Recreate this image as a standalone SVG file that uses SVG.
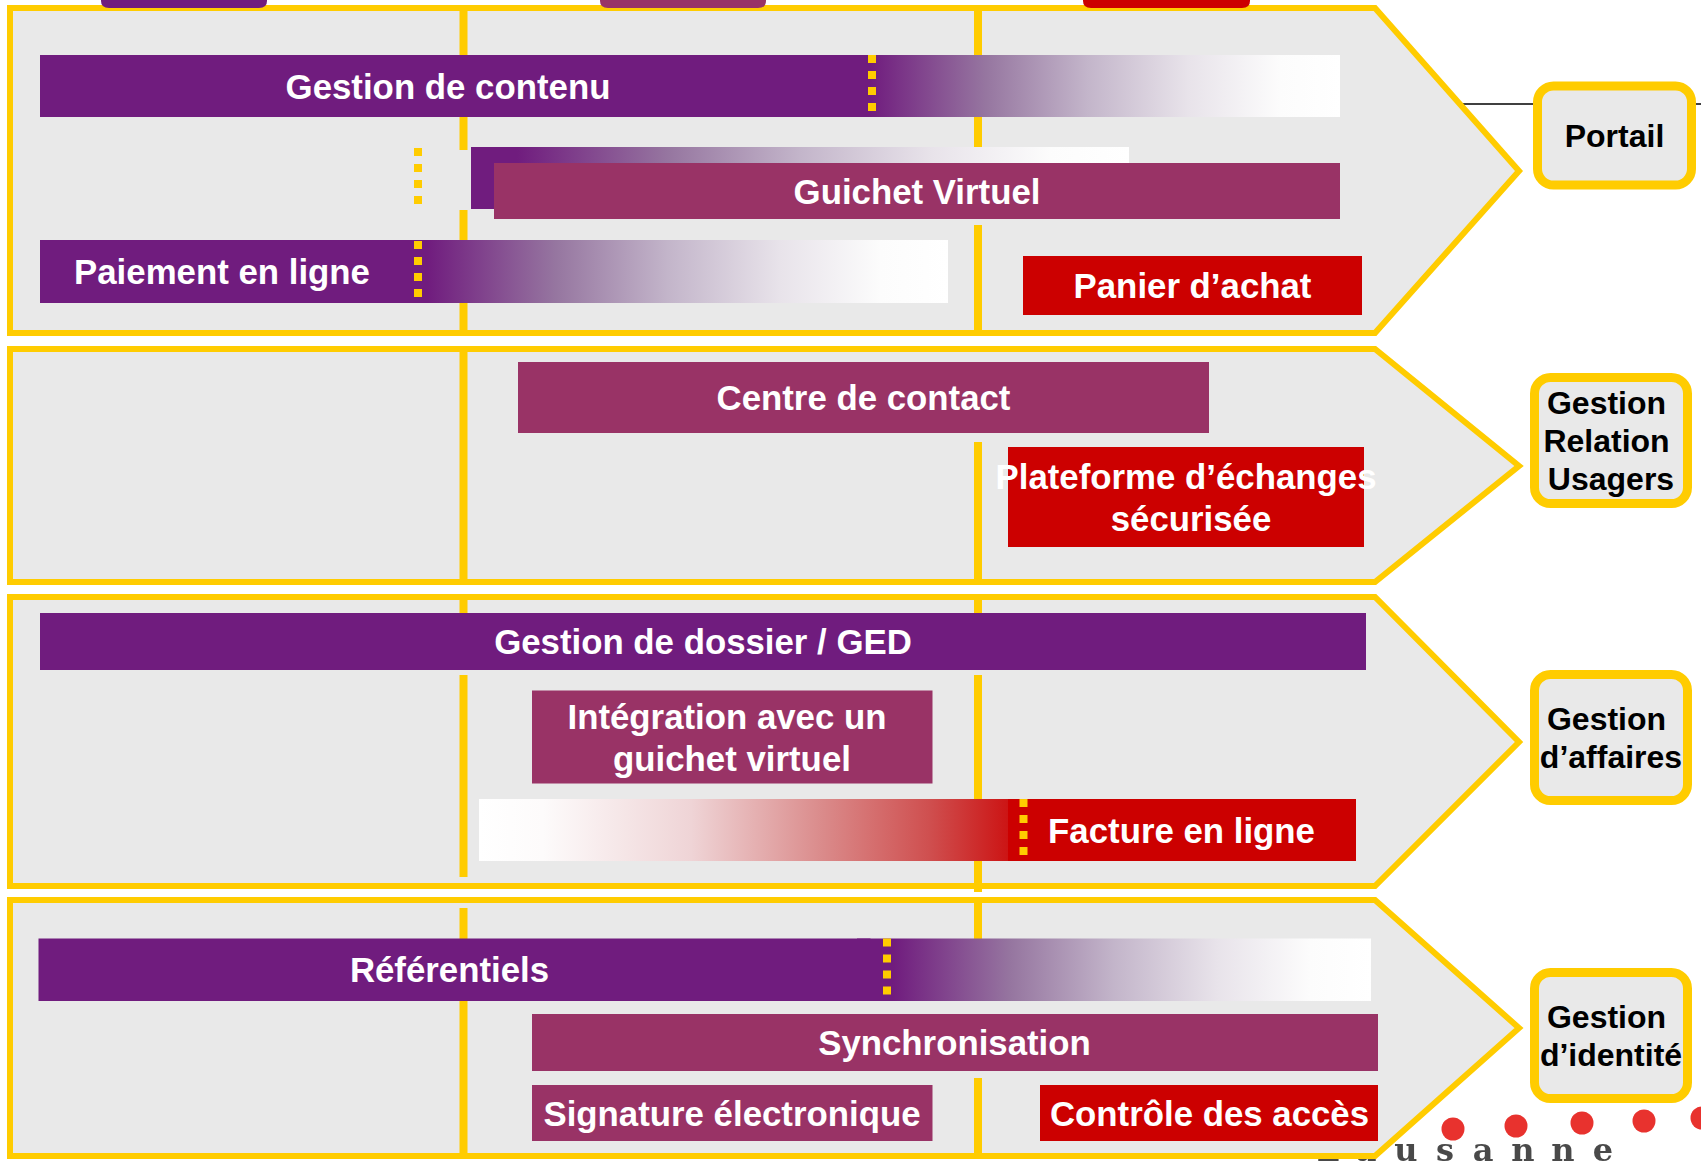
<svg xmlns="http://www.w3.org/2000/svg" width="1701" height="1162" viewBox="0 0 1701 1162">
<style>
text{font-family:"Liberation Sans",Arial,sans-serif;font-weight:700;font-size:34.8px;text-anchor:middle;fill:#fff}
.panel{fill:#e9e9e9;stroke:#ffcc00;stroke-width:6;stroke-linejoin:miter}
.side{fill:#e9e9e9;stroke:#ffcc00;stroke-width:9}
.side text{fill:#000;stroke:none;font-size:32px}
.v{stroke:#ffcc00;stroke-width:8;fill:none}
.dots{stroke:#ffcc00;stroke-width:8;stroke-dasharray:8 8;fill:none}
.p{fill:#701c7e}.m{fill:#993366}.r{fill:#cc0000}
#logo text{font-family:"DejaVu Serif",serif;font-size:32px;fill:#4a4a4a}
</style>
<defs>
<linearGradient id="gp" x1="0" x2="1" y1="0" y2="0">
<stop offset="0" stop-color="#701c7e"/><stop offset=".07" stop-color="#701c7e"/><stop offset=".3" stop-color="#9676a0"/><stop offset=".5" stop-color="#c3b5ca"/><stop offset=".7" stop-color="#e8e3ea"/><stop offset=".88" stop-color="#fcfcfc"/><stop offset="1" stop-color="#fff"/>
</linearGradient>
<linearGradient id="gr" x1="0" x2="1" y1="0" y2="0">
<stop offset="0" stop-color="#fff"/><stop offset=".12" stop-color="#fdfbfb"/><stop offset=".4" stop-color="#efd4d6"/><stop offset=".65" stop-color="#da8a8a"/><stop offset=".85" stop-color="#cf4f4f"/><stop offset="1" stop-color="#cc1414"/>
</linearGradient>
<filter id="soft" x="-5%" y="-20%" width="110%" height="140%"><feGaussianBlur stdDeviation="0.7"/></filter>
</defs>
<rect width="1701" height="1162" fill="#fff"/>
<g id="logo" filter="url(#soft)">
<circle cx="1453" cy="1129" r="11.500" fill="#e8322e"/><circle cx="1516" cy="1126" r="11.500" fill="#e8322e"/><circle cx="1582" cy="1123" r="11.500" fill="#e8322e"/><circle cx="1644" cy="1121" r="11.500" fill="#e8322e"/><circle cx="1702" cy="1118" r="11.500" fill="#e8322e"/>
<text x="1328 1366 1406 1445 1483 1523 1563 1603" y="1161">Lausanne</text>
</g>
<g id="connectors">
<path d="M1463 104H1701" stroke="#000" stroke-width="1.500" fill="none"/>
</g>
<g id="panel-portail">
<path class="panel" d="M10 8H1375L1519 171L1375 333H10Z"/>
<path class="v" d="M463.500 11V57M463.500 115V150M463.500 210V240M463.500 302V333M978 11V57M978 115V150M978 225V333"/>
<rect class="p" x="40" y="55" width="800" height="62"/>
<rect x="834" y="55" width="506" height="62" fill="url(#gp)"/>
<path class="dots" d="M872 55V111"/>
<rect x="471" y="147" width="658" height="62" fill="url(#gp)"/>
<path class="dots" d="M418 148V204"/>
<rect class="m" x="494" y="163" width="846" height="56"/>
<rect class="p" x="40" y="240" width="350" height="63"/>
<rect x="388" y="240" width="560" height="63" fill="url(#gp)"/>
<path class="dots" d="M418 241V297"/>
<rect class="r" x="1023" y="256" width="339" height="59"/>
<text x="448" y="99">Gestion de contenu</text>
<text x="917" y="204">Guichet Virtuel</text>
<text x="222" y="284">Paiement en ligne</text>
<text x="1192.500" y="298">Panier d’achat</text>
</g>
<g id="panel-relation">
<path class="panel" d="M10 349H1375L1519 466L1375 582H10Z"/>
<path class="v" d="M463.500 352V582M978 442V582"/>
<rect class="m" x="518" y="362" width="691" height="71"/>
<rect class="r" x="1008" y="447" width="356" height="100"/>
<text x="863.500" y="410">Centre de contact</text>
<text x="1186" y="489">Plateforme d’échanges</text>
<text x="1191" y="531">sécurisée</text>
</g>
<g id="panel-affaires">
<path class="panel" d="M10 597H1375L1519 742L1375 886H10Z"/>
<path class="v" d="M463.500 600V613M463.500 675V877M978 600V613M978 675V892"/>
<rect class="p" x="40" y="613" width="1326" height="57"/>
<rect class="m" x="532" y="690.500" width="400.500" height="93"/>
<rect x="479" y="799" width="530" height="62" fill="url(#gr)"/>
<rect class="r" x="1008" y="799" width="348" height="62"/>
<path class="dots" d="M1023.500 799V855"/>
<text x="703" y="654">Gestion de dossier / GED</text>
<text x="727" y="729">Intégration avec un</text>
<text x="732" y="771">guichet virtuel</text>
<text x="1181.500" y="843">Facture en ligne</text>
</g>
<g id="panel-identite">
<path class="panel" d="M10 900H1375L1519 1028L1375 1156H10Z"/>
<path class="v" d="M463.500 908V939M463.500 1000V1156M978 903V939M978 1078V1156"/>
<rect class="p" x="38.500" y="938.500" width="832" height="62.500"/>
<rect x="857" y="938.500" width="514" height="62.500" fill="url(#gp)"/>
<path class="dots" d="M887 938.500V994.500"/>
<rect class="m" x="532" y="1014" width="846" height="57"/>
<rect class="m" x="532" y="1085" width="400.500" height="56"/>
<rect class="r" x="1040" y="1085" width="338" height="56"/>
<text x="449.500" y="982">Référentiels</text>
<text x="954.500" y="1055">Synchronisation</text>
<text x="732" y="1126">Signature électronique</text>
<text x="1209.500" y="1126">Contrôle des accès</text>
</g>
<g id="tabs">
<path class="p" d="M101 0H267V1Q267 8 259 8H109Q101 8 101 1Z"/>
<path class="m" d="M600 0H766V1Q766 8 758 8H608Q600 8 600 1Z"/>
<path class="r" d="M1083 0H1250V1Q1250 8 1242 8H1091Q1083 8 1083 1Z"/>
</g>
<g id="side-portail" class="side">
<rect x="1537.500" y="86" width="154" height="99" rx="16"/>
<text x="1614.500" y="147">Portail</text>
</g>
<g id="side-relation" class="side">
<rect x="1534.500" y="377.500" width="153" height="126" rx="16"/>
<text x="1606.500" y="414">Gestion</text>
<text x="1606.500" y="452">Relation</text>
<text x="1611" y="490">Usagers</text>
</g>
<g id="side-affaires" class="side">
<rect x="1534.500" y="674.500" width="153" height="126" rx="16"/>
<text x="1606.500" y="730">Gestion</text>
<text x="1611" y="768">d’affaires</text>
</g>
<g id="side-identite" class="side">
<rect x="1534.500" y="972.500" width="153" height="126" rx="16"/>
<text x="1606.500" y="1028">Gestion</text>
<text x="1611" y="1066">d’identité</text>
</g>
</svg>
